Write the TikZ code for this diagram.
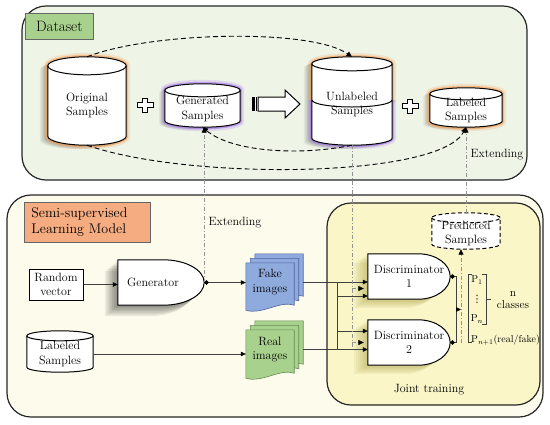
\documentclass[tikz,border=0pt]{standalone}
\usepackage{fontspec}
\newfontfamily\symfont{DejaVu Sans}
\usetikzlibrary{arrows.meta,calc}
\definecolor{dsbg}{RGB}{238,245,231}
\definecolor{dslab}{RGB}{169,209,142}
\definecolor{ssbg}{RGB}{253,252,236}
\definecolor{sslab}{RGB}{244,172,128}
\definecolor{jtbg}{RGB}{250,246,200}
\definecolor{glowor}{RGB}{244,160,90}
\definecolor{glowpu}{RGB}{170,120,240}
\definecolor{fakef}{RGB}{143,170,220}
\definecolor{fakeb}{RGB}{80,100,160}
\definecolor{realf}{RGB}{169,209,142}
\definecolor{realb}{RGB}{100,140,80}
\definecolor{dshadow}{RGB}{150,140,40}
\pgfdeclarelayer{back}\pgfdeclarelayer{mid}\pgfsetlayers{back,mid,main}
% cylinder outline (node box = top-ellipse centre .. bottom)
\newcommand\mycylout[2]{let \p1=(#1.north west), \p2=(#1.south east), \n1={(\x2-\x1)/2} in
  (\x1,\y1) -- (\x1,\y2+#2) arc[start angle=180,end angle=360,x radius=\n1,y radius=#2pt]
  -- (\x2,\y1) arc[start angle=0,end angle=180,x radius=\n1,y radius=#2pt] -- cycle}
\newcommand\mycylfront[2]{let \p1=(#1.north west), \p2=(#1.south east), \n1={(\x2-\x1)/2} in
  (\x1,\y1) arc[start angle=180,end angle=360,x radius=\n1,y radius=#2pt]}
% gate shape
\newcommand\mygate[2]{let \p1=(#1.north west), \p2=(#1.south east), \n2={(\y1-\y2)/2} in
  (\x1,\y1) -- (\x2-#2,\y1) arc[start angle=90,end angle=-90,x radius=#2pt,y radius=\n2]
  -- (\x1,\y2) -- cycle}
% one page of a document stack
\newcommand\mypage[2]{let \p1=(#1.north west), \p2=(#1.south east) in
  (\x1+4.5*#2,\y1-9+4.5*#2) -- (\x2-9+4.5*#2,\y1-9+4.5*#2) -- (\x2-9+4.5*#2,\y2+5+4.5*#2)
  .. controls (\x2-23+4.5*#2,\y2+10+4.5*#2) and (\x1+16+4.5*#2,\y2-5+4.5*#2) .. (\x1+4.5*#2,\y2+4.5*#2) -- cycle}
\newcommand\myplus[1]{\draw[line width=1pt, fill=white] (#1) +(-2.5,7) -- +(2.5,7) -- +(2.5,2.5) -- +(8,2.5)
  -- +(8,-2.5) -- +(2.5,-2.5) -- +(2.5,-7) -- +(-2.5,-7) -- +(-2.5,-2.5) -- +(-8,-2.5) -- +(-8,2.5) -- +(-2.5,2.5) -- cycle;}
% soft shadow: path, dx, dy, opacity, colour
\newcommand\myshadow[5]{\foreach \s in {1,...,7} {\fill[#5, fill opacity=#4,
  transform canvas={shift={(\s*#2/7,\s*#3/7)}}] #1;}}
\begin{document}
\begin{tikzpicture}[x=1pt,y=1pt,font=\fontsize{12}{14.5}\selectfont,
  bigbox/.style={draw=black!85, line width=1.2pt, rounded corners=24pt},
  lab/.style={draw=black!60, line width=0.7pt, inner sep=0},
  cylbox/.style={inner sep=0, align=center},
  gbox/.style={inner sep=0, align=center},
  cyl/.style={draw=black, line width=1pt, fill=white},
  cylline/.style={draw=black, line width=1pt},
  glow/.style={draw=#1, line width=4pt, draw opacity=.6, preaction={draw=#1, line width=8pt, draw opacity=.22}},
  gate/.style={draw=black, line width=1pt, fill=white},
  conn/.style={draw=black!75, line width=0.6pt, -{Triangle[length=5pt,width=4.5pt,black]}},
  thinl/.style={draw=black!75, line width=0.6pt},
  dot/.style={{Circle[length=4.5pt,black]}-},
  dashc/.style={draw=black, line width=0.9pt, dash pattern=on 5pt off 3pt},
  dd/.style={draw=gray!85, line width=0.6pt, dash pattern=on 4pt off 2pt on 1pt off 2pt},
  tip/.style={-{Triangle[length=5.5pt,width=5pt,black]}}]
\useasboundingbox (0,0) rectangle (550,-424);

\begin{pgfonlayer}{back}
\fill[white] (0,0) rectangle (550,-424);
\draw[bigbox, fill=dsbg] (22,-6) rectangle (527,-180);
\draw[bigbox, fill=ssbg] (7,-195) rectangle (543,-417);
\draw[bigbox, fill=jtbg] (327,-203) rectangle (540,-405);
\end{pgfonlayer}

% ---------- labels ----------
\node[lab, fill=dslab, anchor=north west, minimum width=68, minimum height=26,
      font=\fontsize{15}{17}\selectfont] (dslabel) at (25,-13) {Dataset};
\node[lab, fill=sslab, anchor=north west, text width=112, inner xsep=7, minimum height=40,
      align=left, font=\fontsize{14}{16}\selectfont] (sslabel) at (24,-202) {Semi-supervised\\Learning Model};

% ---------- cylinders ----------
\node[cylbox, minimum width=78, minimum height=79] (orig) at (87,-105.5) {Original\\Samples};
\node[cylbox, minimum width=75, minimum height=36.5] (gens) at (202.5,-108.75) {Generated\\Samples};
\node[cylbox, minimum width=80, minimum height=81] (unl) at (352,-104.5) {Unlabeled\\Samples};
\node[cylbox, minimum width=72, minimum height=33] (lab1) at (466,-110.5) {Labeled\\Samples};
\node[cylbox, minimum width=66, minimum height=36] (lab2) at (60,-354) {Labeled\\Samples};
\node[cylbox, minimum width=68, minimum height=31] (pred) at (466,-233.5) {Predicted\\Samples};

% ---------- boxes, gates, stacks ----------
\node[draw, line width=1pt, fill=white, minimum width=54, minimum height=31, inner sep=0, align=center]
     (rv) at (56,-284.5) {Random\\vector};
\node[gbox, minimum width=86, minimum height=45] (G) at (161,-282.5) {\hspace*{-16pt}Generator};
\node[gbox, minimum width=82, minimum height=45] (D1) at (409,-276.5) {Discriminator\\1};
\node[gbox, minimum width=82, minimum height=45] (D2) at (409,-342.5) {Discriminator\\2};
\node[cylbox, minimum width=57, minimum height=56] (fake) at (274.5,-282) {\hspace*{-9pt}Fake\\\hspace*{-9pt}images};
\node[cylbox, minimum width=57, minimum height=57] (real) at (274.5,-349.5) {\hspace*{-9pt}Real\\\hspace*{-9pt}images};

% ---------- other labels ----------
\node (ext1) at (235,-223) {Extending};
\node (ext2) at (497,-155) {Extending};
\node (jt) at (429,-390) {Joint training};
\begin{scope}[font=\fontsize{10}{12}\selectfont]
\node[inner sep=0] (p1) at (477,-280) {P$_1$};
\node[inner sep=0, font=\symfont\fontsize{10}{12}\selectfont] (pd) at (477,-299.5) {⋮};
\node[inner sep=0] (pn) at (477,-319) {P$_n$};
\node[anchor=west, inner sep=0] (pn1) at (471,-340) {P$_{n+1}$(real/fake)};
\end{scope}
\node[align=center, inner sep=0, font=\fontsize{11.5}{12.5}\selectfont] (ncl) at (513,-300) {n\\classes};

% ---------- shapes (middle layer) ----------
\begin{pgfonlayer}{mid}
\myshadow{\mycylout{orig}{9}}{-8}{-4}{0.05}{black}
\draw[glow=glowor] \mycylout{orig}{9};
\draw[cyl] \mycylout{orig}{9};
\draw[cylline] \mycylfront{orig}{9};

\myshadow{\mycylout{gens}{6.5}}{-6}{-3}{0.04}{black}
\draw[glow=glowpu] \mycylout{gens}{6.5};
\draw[cyl] \mycylout{gens}{6.5};
\draw[cylline] \mycylfront{gens}{6.5};

% unlabeled: upper half orange, lower half purple
\myshadow{\mycylout{unl}{7}}{-8}{-4}{0.05}{black}
\draw[glow=glowor] (312,-100) -- (312,-64) arc[start angle=180,end angle=0,x radius=40,y radius=7]
   -- (392,-100) arc[start angle=0,end angle=-180,x radius=40,y radius=7];
\draw[glow=glowpu] (312,-100) -- (312,-138) arc[start angle=180,end angle=360,x radius=40,y radius=7] -- (392,-100);
\draw[cyl] \mycylout{unl}{7};
\draw[cylline] \mycylfront{unl}{7};
\draw[cylline] (312,-100) arc[start angle=180,end angle=360,x radius=40,y radius=7];

\myshadow{\mycylout{lab1}{6}}{-7}{-3}{0.04}{black}
\draw[glow=glowor] \mycylout{lab1}{6};
\draw[cyl] \mycylout{lab1}{6};
\draw[cylline] \mycylfront{lab1}{6};

\draw[cyl] \mycylout{lab2}{5};
\draw[cylline] \mycylfront{lab2}{5};

\draw[cyl, dash pattern=on 4pt off 2.5pt] \mycylout{pred}{5};
\draw[cylline, dash pattern=on 4pt off 2.5pt] \mycylfront{pred}{5};

\myshadow{\mygate{G}{41}}{-13}{-11}{0.07}{black}
\myshadow{\mygate{D1}{32}}{-14}{-9}{0.07}{dshadow}
\myshadow{\mygate{D2}{32}}{-14}{-9}{0.07}{dshadow}
\draw[gate] \mygate{G}{41};
\draw[gate] \mygate{D1}{32};
\draw[gate] \mygate{D2}{32};

\foreach \k in {2,1,0} {\draw[fill=fakef, draw=fakeb, line width=.6pt] \mypage{fake}{\k};}
\foreach \k in {2,1,0} {\draw[fill=realf, draw=realb, line width=.6pt] \mypage{real}{\k};}

% hollow arrow and plus signs
\fill (252,-97) rectangle (255,-111);
\draw[line width=0.8pt] (256.6,-97) -- (256.6,-111);
\draw[line width=1pt, fill=white] (258,-97) -- (285,-97) -- (285,-90) -- (300,-104) -- (285,-118) -- (285,-111) -- (258,-111) -- cycle;
\myplus{145,-105}
\myplus{410,-106}
\end{pgfonlayer}

% ---------- connectors ----------
\draw[dashc, dot, tip] ([yshift=9]orig.north) .. controls (150,-32) and (310,-28) .. ([yshift=7]unl.north);
\draw[dashc, dot, tip] (orig.south) .. controls (190,-181) and (440,-178) .. (lab1.south);
\draw[dashc, dot, tip] (unl.south) .. controls (300,-156) and (232,-152) .. (gens.south);

\draw[dd, tip] (G.east) -- (G.east |- gens.south);
\draw[dd, dot, tip] ([yshift=5]pred.north) -- (lab1.south);

\draw[conn] (rv.east) -- (rv.east -| G.west);
\draw[conn, {Circle[length=4.5pt,black]}-{Triangle[length=5pt,width=4.5pt,black]}] (G.east) -- (G.east -| fake.west);
\draw[conn] (lab2.east) -- (lab2.east -| real.west);

\coordinate (busx) at (337,0);
\coordinate (d1b) at ([yshift=-12]D1.west);
\coordinate (d1c) at ([yshift=-19.5]D1.west);
\coordinate (d2a) at ([yshift=11.5]D2.west);
\coordinate (d2b) at (D2.west);

\draw[conn] (fake.east) -- (fake.east -| D1.west);
\draw[conn] (fake.east) -| (busx |- d2a) -- (d2a);
\draw[conn] (real.east) -- (real.east -| D2.west);
\draw[conn] (real.east) -| (busx |- d1c) -- (d1c);

\draw[dd] (unl.south) -- ([yshift=-6]unl.south |- d2b);
\draw[dd, tip, shorten >=4pt] (unl.south |- d1b) -- (d1b);
\draw[dd, tip, shorten >=4pt] (unl.south |- d2b) -- (d2b);

% discriminator outputs
\coordinate (bx) at (456,0);
\draw[thinl, dot] (D1.east) -- (D1.east -| bx) -- (D2.east -| bx);
\draw[thinl, dot] (D2.east) -- (D2.east -| bx);
\coordinate (bm) at ($(D1.east -| bx)!0.5!(D2.east -| bx)$);
\coordinate (ddb) at (461,-343);
\draw[dd, tip] (ddb) -- (ddb |- pred.south);
\draw[conn] (bm) -- (bm -| ddb);

% brackets
\draw[thinl] (472,-274) -- (468.5,-274) -- (468.5,-342) -- (472,-342);
\draw[thinl] (482,-274) -- (486,-274) -- (486,-324) -- (482,-324);
\draw[thinl] (486,-299) -- (491,-299);
\end{tikzpicture}
\end{document}
